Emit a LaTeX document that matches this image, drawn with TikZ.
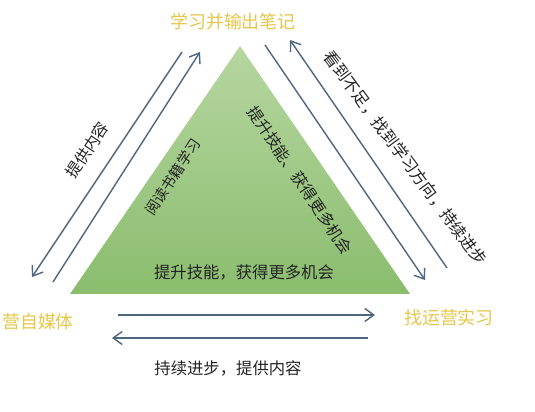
\documentclass[tikz,border=0pt]{standalone}
\usepackage{fontspec}
\newfontfamily\cjk{Noto Sans CJK SC}
\usetikzlibrary{arrows.meta, positioning, calc}
\definecolor{cTriTop}{RGB}{182, 214, 160}
\definecolor{cTriBot}{RGB}{138, 189, 110}
\definecolor{cGold}{RGB}{228, 198, 72}
\definecolor{lineColor}{RGB}{78, 102, 128}
\definecolor{textColor}{RGB}{35, 35, 35}
\tikzset{
    font=\cjk,
    % --- 标签样式 ---
    corner/.style={
        text=cGold, inner sep=1pt, font=\cjk\fontsize{10.2}{12}\selectfont
    },
    note/.style={
        text=textColor, inner sep=1pt, font=\cjk\fontsize{9.3}{11}\selectfont
    },
    % --- 连线样式 ---
    conn/.style={
        draw=lineColor, line width=0.8pt,
        -{Straight Barb[length=1.8mm, width=2.6mm]}
    }
}
\begin{document}
\begin{tikzpicture}[x=0.02cm, y=-0.02cm]

	\useasboundingbox (0,0) rectangle (535,412);

	% =========================================================
	% 1. 三角形 (Triangle)
	% =========================================================
	\coordinate (tA) at (240,46);
	\coordinate (tL) at (70,294);
	\coordinate (tR) at (410,294);
	\shade[top color=cTriTop, bottom color=cTriBot] (tA) -- (tL) -- (tR) -- cycle;

	% =========================================================
	% 2. 三个角 (Corners)
	% =========================================================
	\node[corner] (ttl) at (233,22) {学习并输出笔记};
	\node[corner] (lft) at (38,322) {营自媒体};
	\node[corner] (rgt) at (449,318) {找运营实习};

	% =========================================================
	% 3. 文字 (Notes)
	% =========================================================
	\node[note] (bot) at (228,368) {持续进步，提供内容};
	\node[note] (inH) at (244,272) {提升技能，获得更多机会};
	\node[note, font=\cjk\fontsize{8.3}{10}\selectfont, rotate=57] (inL) at (173,177) {阅读书籍学习};
	\node[note, font=\cjk\fontsize{9}{11}\selectfont, rotate=-56] (inR) at (300,180) {提升技能、获得更多机会};
	\node[note, font=\cjk\fontsize{9}{11}\selectfont, rotate=56] (outL) at (87,150) {提供内容};
	\node[note, rotate=-53.5] (outR) at (405,158) {看到不足，找到学习方向，持续进步};

	% =========================================================
	% 4. 连线 (Arrows)
	% =========================================================
	\coordinate (lo1) at (182,52);  \coordinate (lo2) at (32,277);
	\coordinate (li1) at (53,282);  \coordinate (li2) at (200,52);
	\coordinate (ro1) at (447,268); \coordinate (ro2) at (290,40);
	\coordinate (ri1) at (265,45);  \coordinate (ri2) at (425,280);
	\coordinate (bu1) at (118,315); \coordinate (bu2) at (375,315);
	\coordinate (bl1) at (368,338); \coordinate (bl2) at (112,338);

	\foreach \a/\b in {lo1/lo2, li1/li2, ro1/ro2, ri1/ri2, bu1/bu2, bl1/bl2} {
			\draw [conn] (\a) -- (\b);
		}

\end{tikzpicture}
\end{document}
